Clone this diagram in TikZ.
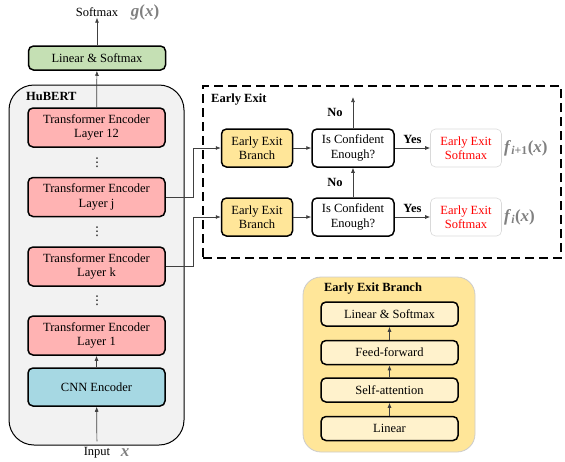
\documentclass[tikz,border=0pt]{standalone}
\usepackage{fontspec}
\setmainfont{Liberation Serif}
\newfontfamily\symfont{DejaVu Sans}
\usetikzlibrary{arrows.meta}

\definecolor{hubertgray}{HTML}{F2F2F2}
\definecolor{layerred}{HTML}{FFB3B3}
\definecolor{lingreen}{HTML}{C5E0B4}
\definecolor{cnnblue}{HTML}{A6D8E3}
\definecolor{branchyellow}{HTML}{FFE699}
\definecolor{innercream}{HTML}{FFF2CC}
\definecolor{arrowgray}{HTML}{404040}
\definecolor{mathgray}{HTML}{808080}

\newcommand{\bi}[1]{\textbf{\textit{#1}}}

\tikzset{
  txt/.style={font=\fontsize{12.5}{14.5}\selectfont, inner sep=1pt},
  bold/.style={font=\fontsize{12.5}{14.5}\selectfont\bfseries, inner sep=1pt},
  block/.style={txt, draw, line width=1.5pt, rounded corners=5pt, align=center},
  layer/.style={block, fill=layerred, minimum width=137pt, minimum height=39pt},
  exitbox/.style={block, minimum width=71pt, minimum height=38pt},
  inner/.style={block, fill=innercream, minimum width=137pt, minimum height=24pt},
  arr/.style={draw=arrowgray, line width=0.7pt, -{Latex[length=5pt,width=4pt]}},
  fx/.style={text=mathgray, font=\fontsize{17}{19}\selectfont\bfseries, inner sep=0pt},
  dots/.style={font=\fontsize{12}{13}\selectfont\symfont, inner sep=0pt}
}

\begin{document}
\begin{tikzpicture}[x=1pt,y=-1pt]
  \useasboundingbox (0,0) rectangle (565,461);

  % HuBERT stack
  \node [draw, line width=1pt, fill=hubertgray, rounded corners=25pt,
         minimum width=175pt, minimum height=360pt] (hubert) at (96.5,265) {};
  \node [bold, anchor=west] (hubertlabel) at (25,96) {HuBERT};
  \node [layer] (l12) at (96.5,127.5) {Transformer Encoder\\Layer 12};
  \node [layer] (lj)  at (96.5,197) {Transformer Encoder\\Layer j};
  \node [layer] (lk)  at (96.5,266.5) {Transformer Encoder\\Layer k};
  \node [layer] (l1)  at (96.5,335.5) {Transformer Encoder\\Layer 1};
  \node [block, fill=cnnblue, minimum width=137pt, minimum height=38pt] (cnn) at (96.5,387) {CNN Encoder};
  \foreach \y/\n in {163/d1, 232/d2, 301/d3}
    \node [dots] (\n) at (97,\y) {⋮};

  \node [block, fill=lingreen, minimum width=137pt, minimum height=24pt] (lin) at (97,58) {Linear \& Softmax};
  \node [txt] (softmax) at (97,12) {Softmax};
  \node [fx] (gx) at (145,12) {\bi{g}(\bi{x})};
  \node [txt] (input) at (97,453) {Input};
  \node [fx] (x) at (125,453) {\bi{x}};

  \draw [arr, shorten <=5pt] (input) -- (cnn);
  \draw [arr] (cnn) -- (l1);
  \draw [arr] (l12) -- (lin);
  \draw [arr] (lin) -- (softmax);

  % early exit
  \node [draw, line width=1.8pt, dash pattern=on 9pt off 5pt,
         minimum width=358pt, minimum height=172pt] (exit) at (382,172) {};
  \node [bold, anchor=west] (exitlabel) at (210,100) {Early Exit};

  \node [exitbox, fill=branchyellow] (br1) at (257,148) {Early Exit\\Branch};
  \node [exitbox, minimum width=82pt] (conf1) at (353,148) {Is Confident\\Enough?};
  \node [exitbox, draw=gray!30, line width=0.6pt, text=red] (sm1) at (466,148) {Early Exit\\Softmax};
  \node [fx, anchor=west] (f1) at (504,148) {\bi{f}\textsubscript{\bi{i}+1}(\bi{x})};

  \node [exitbox, fill=branchyellow] (br2) at (257,217) {Early Exit\\Branch};
  \node [exitbox, minimum width=82pt] (conf2) at (353,217) {Is Confident\\Enough?};
  \node [exitbox, draw=gray!30, line width=0.6pt, text=red] (sm2) at (466,217) {Early Exit\\Softmax};
  \node [fx, anchor=west] (f2) at (504,217) {\bi{f}\textsubscript{\bi{i}}(\bi{x})};

  \coordinate (exitup) at (353,97);

  \draw [arr] (lj.east) -- ++(28,0) |- (br1.west);
  \draw [arr] (lk.east) -- ++(28,0) |- (br2.west);
  \begin{scope}[every node/.style={bold}]
    \draw [arr] (br1) -- (conf1);
    \draw [arr] (conf1) -- node [above=3pt] {Yes} (sm1);
    \draw [arr] (conf1) -- node [left=9pt] {No} (exitup);
    \draw [arr] (br2) -- (conf2);
    \draw [arr] (conf2) -- node [above=3pt] {Yes} (sm2);
    \draw [arr] (conf2) -- node [left=9pt] {No} (conf1);
  \end{scope}

  % branch detail
  \node [draw=gray!40, line width=0.8pt, fill=branchyellow, rounded corners=18pt,
         minimum width=172pt, minimum height=175pt] (detail) at (389,364.5) {};
  \node [bold] (detaillabel) at (373,289) {Early Exit Branch};
  \node [inner] (dls) at (389.5,314) {Linear \& Softmax};
  \node [inner] (dff) at (389.5,352.5) {Feed-forward};
  \node [inner] (dsa) at (389.5,390) {Self-attention};
  \node [inner] (dlin) at (389.5,428.5) {Linear};
  \draw [arr] (dlin) -- (dsa);
  \draw [arr] (dsa) -- (dff);
  \draw [arr] (dff) -- (dls);
\end{tikzpicture}
\end{document}
